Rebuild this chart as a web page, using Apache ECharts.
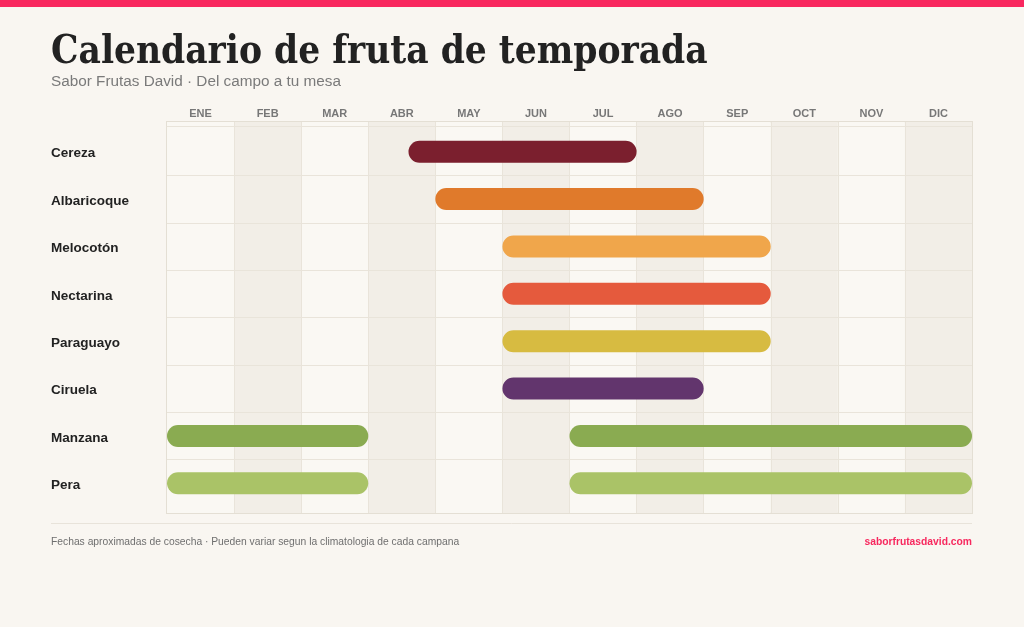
<!DOCTYPE html>
<html>
<head>
<meta charset="utf-8">
<script src="https://cdn.jsdelivr.net/npm/echarts@6/dist/echarts.min.js"></script>
<style>
html,body{margin:0;padding:0;background:#f9f6f1;}
#chart{width:1024px;height:627px;}
</style>
</head>
<body>
<div id="chart"></div>
<script>
// ---- data ----
const months = ['ENE','FEB','MAR','ABR','MAY','JUN','JUL','AGO','SEP','OCT','NOV','DIC'];
const fruits = ['Cereza','Albaricoque','Melocotón','Nectarina','Paraguayo','Ciruela','Manzana','Pera'];
// season in months from 1 Jan (0 = start of ENE, 12 = end of DIC)
const seasonStart = [3.6, 4, 5, 5, 5, 5, 0, 0];
const seasonEnd   = [7, 8, 9, 9, 9, 8, 3, 3];
const secondStart = [null, null, null, null, null, null, 6, 6];
const secondEnd   = [null, null, null, null, null, null, 12, 12];
const fruitColors = ['#7b1f2e','#e07a2b','#f0a64b','#e55a3d','#d7bb41','#62356d','#8aab51','#aac367'];

const segments = [];
fruits.forEach((f, i) => {
  segments.push({ value: [i, seasonStart[i], seasonEnd[i]], itemStyle: { color: fruitColors[i] } });
  if (secondStart[i] !== null) {
    segments.push({ value: [i, secondStart[i], secondEnd[i]], itemStyle: { color: fruitColors[i] } });
  }
});

const chart = echarts.init(document.getElementById('chart'), null, { renderer: 'canvas' });
const lineColor = '#e9e4da';
chart.setOption({
  backgroundColor: '#f9f6f1',
  animation: false,
  title: [
    { text: 'Calendario de fruta de temporada', left: 51, top: 34, padding: 0,
      textStyle: { fontFamily: 'DejaVu Serif Condensed', fontWeight: 'bold', fontSize: 38.4, color: '#222222' } },
    { text: 'Sabor Frutas David · Del campo a tu mesa', left: 51, top: 74, padding: 0,
      textStyle: { fontFamily: 'Liberation Sans', fontWeight: 'normal', fontSize: 15.3, color: '#7a7a7a' } },
    { text: 'Fechas aproximadas de cosecha · Pueden variar segun la climatologia de cada campana', left: 51, top: 537, padding: 0,
      textStyle: { fontFamily: 'Liberation Sans', fontWeight: 'normal', fontSize: 10.3, color: '#6f6f6f' } },
    { text: 'saborfrutasdavid.com', right: 52, top: 537, padding: 0,
      textStyle: { fontFamily: 'Liberation Sans', fontWeight: 'bold', fontSize: 10.3, color: '#f7285e' } }
  ],
  graphic: [
    { type: 'rect', left: 0, top: 0, shape: { width: 1024, height: 7 }, style: { fill: '#f9285f' } },
    { type: 'line', shape: { x1: 51, y1: 523.5, x2: 972, y2: 523.5 }, style: { stroke: '#e8e3da', lineWidth: 1 } }
  ],
  grid: [
    { left: 167, right: 52, top: 128, bottom: 120, containLabel: false },
    { left: 167, right: 52, top: 122, bottom: 114, show: true, borderColor: '#e4dfd4', borderWidth: 2, backgroundColor: 'transparent', z: 0 }
  ],
  xAxis: [
    { type: 'value', gridIndex: 0, min: 0, max: 12, show: false },
    { type: 'category', gridIndex: 0, data: months, position: 'top', offset: 2, boundaryGap: true, z: 3,
      axisLine: { show: true, lineStyle: { color: lineColor, width: 1 } },
      axisTick: { show: false },
      axisLabel: { color: '#777777', fontFamily: 'Liberation Sans', fontWeight: 'bold', fontSize: 11, margin: 6.5 },
      splitLine: { show: false } },
    { type: 'value', gridIndex: 1, min: 0, max: 12, interval: 1, position: 'bottom', z: 0,
      axisLine: { show: false }, axisTick: { show: false }, axisLabel: { show: false },
      splitLine: { show: true, showMinLine: false, showMaxLine: false, lineStyle: { color: lineColor, width: 1 } },
      splitArea: { show: true, areaStyle: { color: ['#faf8f3', '#f2eee7'] } } }
  ],
  yAxis: [
    { type: 'category', gridIndex: 0, data: fruits, inverse: true, z: 3,
      axisLine: { show: false }, axisTick: { show: false },
      axisLabel: { align: 'left', verticalAlign: 'top', lineHeight: 4, margin: 116, color: '#222222', fontFamily: 'Liberation Sans', fontWeight: 'bold', fontSize: 13.5 },
      splitLine: { show: true, showMinLine: false, showMaxLine: false, lineStyle: { color: lineColor, width: 1 } } },
    { type: 'value', gridIndex: 1, show: false, min: 0, max: 1, splitLine: { show: false } }
  ],
  series: [{
    type: 'custom',
    xAxisIndex: 0,
    yAxisIndex: 0,
    z: 5,
    encode: { x: [1, 2], y: 0 },
    data: segments,
    renderItem: function (params, api) {
      const yi = api.value(0);
      const p0 = api.coord([api.value(1), yi]);
      const p1 = api.coord([api.value(2), yi]);
      const h = 22;
      return {
        type: 'rect',
        shape: { x: p0[0], y: p0[1] - h / 2, width: p1[0] - p0[0], height: h, r: h / 2 },
        style: { fill: api.visual('color') }
      };
    }
  }]
});
</script>
</body>
</html>
